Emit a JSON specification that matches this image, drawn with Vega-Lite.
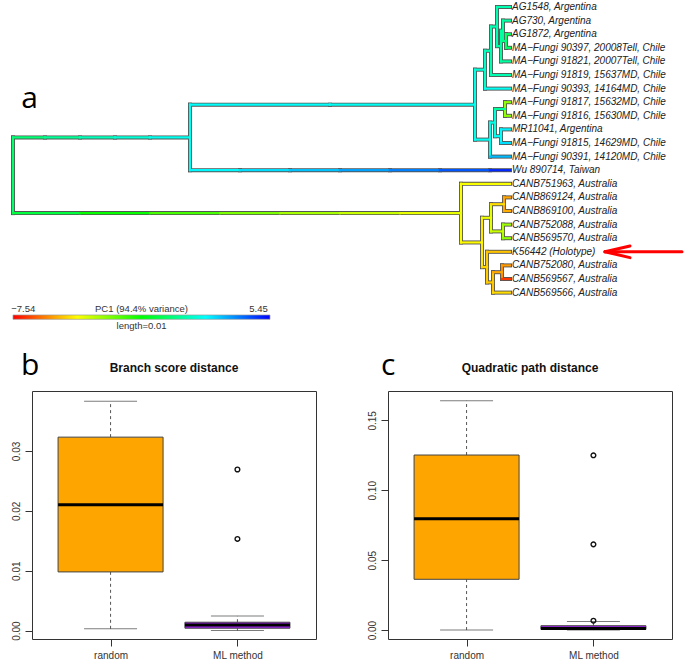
{
  "$schema": "https://vega.github.io/schema/vega-lite/v6.json",
  "padding": {"left": 10, "top": 0, "right": 0, "bottom": 0},
  "spacing": 18,
  "resolve": {"scale": {"x": "independent", "y": "independent", "color": "independent"}},
  "config": {
    "font": "Liberation Sans",
    "view": {"stroke": "#333", "strokeWidth": 1},
    "axis": {"grid": false, "domain": false, "tickColor": "#333", "tickSize": 7, "labelFontSize": 10, "labelColor": "#333", "labelFont": "Liberation Sans"},
    "title": {"font": "Liberation Sans", "fontSize": 12, "fontWeight": "bold", "color": "#111"}
  },
  "datasets": {
    "branches": [
      {"x0":0,"x1":0,"y0":10.59,"y1":16.156,"pc":-0.4},
      {"x0":6.887,"x1":6.887,"y0":8.18,"y1":13,"pc":1.94},
      {"x0":17.977,"x1":17.977,"y0":5.609,"y1":10.75,"pc":1.55},
      {"x0":18.366,"x1":18.366,"y0":4.219,"y1":7,"pc":0.9},
      {"x0":18.599,"x1":18.599,"y0":2.4375,"y1":6,"pc":0.51},
      {"x0":18.833,"x1":18.833,"y0":1,"y1":3.875,"pc":0.51},
      {"x0":18.988,"x1":18.988,"y0":2.75,"y1":5,"pc":0.25},
      {"x0":19.066,"x1":19.066,"y0":2,"y1":3.5,"pc":0.25},
      {"x0":19.183,"x1":19.183,"y0":3,"y1":4,"pc":-0.4},
      {"x0":18.56,"x1":18.56,"y0":9.5,"y1":12,"pc":1.81},
      {"x0":18.755,"x1":18.755,"y0":8.5,"y1":10.5,"pc":1.29},
      {"x0":19.144,"x1":19.144,"y0":8,"y1":9,"pc":-2.08},
      {"x0":18.988,"x1":18.988,"y0":10,"y1":11,"pc":2.2},
      {"x0":17.432,"x1":17.432,"y0":14,"y1":18.3125,"pc":-4.16},
      {"x0":18.249,"x1":18.249,"y0":16.5,"y1":20.125,"pc":-4.68},
      {"x0":18.599,"x1":18.599,"y0":15.5,"y1":17.5,"pc":-3.64},
      {"x0":19.105,"x1":19.105,"y0":15,"y1":16,"pc":-5.85},
      {"x0":19.066,"x1":19.066,"y0":17,"y1":18,"pc":-2.6},
      {"x0":18.444,"x1":18.444,"y0":19,"y1":21.25,"pc":-5.2},
      {"x0":18.677,"x1":18.677,"y0":20.5,"y1":22,"pc":-5.33},
      {"x0":19.027,"x1":19.027,"y0":20,"y1":21,"pc":-6.24},
      {"x0":0,"x1":1.245,"y0":10.59,"y1":10.59,"pc":-0.27},
      {"x0":1.245,"x1":2.607,"y0":10.59,"y1":10.59,"pc":0.12},
      {"x0":2.607,"x1":3.969,"y0":10.59,"y1":10.59,"pc":0.64},
      {"x0":3.969,"x1":5.331,"y0":10.59,"y1":10.59,"pc":1.16},
      {"x0":5.331,"x1":6.887,"y0":10.59,"y1":10.59,"pc":1.68},
      {"x0":0,"x1":2.607,"y0":16.156,"y1":16.156,"pc":-0.79},
      {"x0":2.607,"x1":5.331,"y0":16.156,"y1":16.156,"pc":-1.05},
      {"x0":5.331,"x1":8.054,"y0":16.156,"y1":16.156,"pc":-1.31},
      {"x0":8.054,"x1":10.389,"y0":16.156,"y1":16.156,"pc":-1.82},
      {"x0":10.389,"x1":12.724,"y0":16.156,"y1":16.156,"pc":-2.47},
      {"x0":12.724,"x1":15.058,"y0":16.156,"y1":16.156,"pc":-3.12},
      {"x0":15.058,"x1":17.432,"y0":16.156,"y1":16.156,"pc":-3.77},
      {"x0":6.887,"x1":12.335,"y0":8.18,"y1":8.18,"pc":2.07},
      {"x0":12.335,"x1":17.977,"y0":8.18,"y1":8.18,"pc":1.81},
      {"x0":6.887,"x1":8.833,"y0":13,"y1":13,"pc":2.33},
      {"x0":8.833,"x1":10.778,"y0":13,"y1":13,"pc":2.85},
      {"x0":10.778,"x1":12.724,"y0":13,"y1":13,"pc":3.37},
      {"x0":12.724,"x1":14.669,"y0":13,"y1":13,"pc":3.89},
      {"x0":14.669,"x1":16.615,"y0":13,"y1":13,"pc":4.41},
      {"x0":16.615,"x1":18.56,"y0":13,"y1":13,"pc":4.93},
      {"x0":18.56,"x1":19.339,"y0":13,"y1":13,"pc":5.32},
      {"x0":17.977,"x1":18.366,"y0":5.609,"y1":5.609,"pc":1.2},
      {"x0":17.977,"x1":18.56,"y0":10.75,"y1":10.75,"pc":1.81},
      {"x0":18.366,"x1":18.599,"y0":4.219,"y1":4.219,"pc":0.6},
      {"x0":18.366,"x1":19.339,"y0":7,"y1":7,"pc":1.81},
      {"x0":18.599,"x1":18.833,"y0":2.4375,"y1":2.4375,"pc":0.51},
      {"x0":18.599,"x1":19.339,"y0":6,"y1":6,"pc":0.51},
      {"x0":18.833,"x1":19.339,"y0":1,"y1":1,"pc":0.51},
      {"x0":18.833,"x1":18.988,"y0":3.875,"y1":3.875,"pc":0.35},
      {"x0":18.988,"x1":19.066,"y0":2.75,"y1":2.75,"pc":0.25},
      {"x0":18.988,"x1":19.339,"y0":5,"y1":5,"pc":0.25},
      {"x0":19.066,"x1":19.339,"y0":2,"y1":2,"pc":0.25},
      {"x0":19.066,"x1":19.183,"y0":3.5,"y1":3.5,"pc":-0.1},
      {"x0":19.183,"x1":19.339,"y0":3,"y1":3,"pc":-0.4},
      {"x0":19.183,"x1":19.339,"y0":4,"y1":4,"pc":-0.4},
      {"x0":18.56,"x1":18.755,"y0":9.5,"y1":9.5,"pc":1.5},
      {"x0":18.56,"x1":19.339,"y0":12,"y1":12,"pc":3.5},
      {"x0":18.755,"x1":19.144,"y0":8.5,"y1":8.5,"pc":0.25},
      {"x0":19.144,"x1":19.339,"y0":8,"y1":8,"pc":-2.08},
      {"x0":19.144,"x1":19.339,"y0":9,"y1":9,"pc":-2.08},
      {"x0":18.755,"x1":18.988,"y0":10.5,"y1":10.5,"pc":2.0},
      {"x0":18.988,"x1":19.339,"y0":10,"y1":10,"pc":2.46},
      {"x0":18.988,"x1":19.339,"y0":11,"y1":11,"pc":2.85},
      {"x0":17.432,"x1":19.339,"y0":14,"y1":14,"pc":-4.16},
      {"x0":17.432,"x1":18.249,"y0":18.3125,"y1":18.3125,"pc":-4.4},
      {"x0":18.249,"x1":18.599,"y0":16.5,"y1":16.5,"pc":-3.9},
      {"x0":18.249,"x1":18.444,"y0":20.125,"y1":20.125,"pc":-5.0},
      {"x0":18.599,"x1":19.105,"y0":15.5,"y1":15.5,"pc":-4.9},
      {"x0":19.105,"x1":19.339,"y0":15,"y1":15,"pc":-5.85},
      {"x0":19.105,"x1":19.339,"y0":16,"y1":16,"pc":-5.72},
      {"x0":18.599,"x1":19.066,"y0":17.5,"y1":17.5,"pc":-3.1},
      {"x0":19.066,"x1":19.339,"y0":17,"y1":17,"pc":-2.34},
      {"x0":19.066,"x1":19.339,"y0":18,"y1":18,"pc":-2.08},
      {"x0":18.444,"x1":19.339,"y0":19,"y1":19,"pc":-5.33},
      {"x0":18.444,"x1":18.677,"y0":21.25,"y1":21.25,"pc":-5.25},
      {"x0":18.677,"x1":19.027,"y0":20.5,"y1":20.5,"pc":-5.8},
      {"x0":18.677,"x1":19.339,"y0":22,"y1":22,"pc":-4.94},
      {"x0":19.027,"x1":19.339,"y0":20,"y1":20,"pc":-6.0},
      {"x0":19.027,"x1":19.339,"y0":21,"y1":21,"pc":-7.28}
    ],
    "tips": [
      {"name":"AG1548, Argentina","tip":1,"depth":19.339},
      {"name":"AG730, Argentina","tip":2,"depth":19.339},
      {"name":"AG1872, Argentina","tip":3,"depth":19.339},
      {"name":"MA−Fungi 90397, 20008Tell, Chile","tip":4,"depth":19.339},
      {"name":"MA−Fungi 91821, 20007Tell, Chile","tip":5,"depth":19.339},
      {"name":"MA−Fungi 91819, 15637MD, Chile","tip":6,"depth":19.339},
      {"name":"MA−Fungi 90393, 14164MD, Chile","tip":7,"depth":19.339},
      {"name":"MA−Fungi 91817, 15632MD, Chile","tip":8,"depth":19.339},
      {"name":"MA−Fungi 91816, 15630MD, Chile","tip":9,"depth":19.339},
      {"name":"MR11041, Argentina","tip":10,"depth":19.339},
      {"name":"MA−Fungi 91815, 14629MD, Chile","tip":11,"depth":19.339},
      {"name":"MA−Fungi 90391, 14120MD, Chile","tip":12,"depth":19.339},
      {"name":"Wu 890714, Taiwan","tip":13,"depth":19.339},
      {"name":"CANB751963, Australia","tip":14,"depth":19.339},
      {"name":"CANB869124, Australia","tip":15,"depth":19.339},
      {"name":"CANB869100, Australia","tip":16,"depth":19.339},
      {"name":"CANB752088, Australia","tip":17,"depth":19.339},
      {"name":"CANB569570, Australia","tip":18,"depth":19.339},
      {"name":"K56442 (Holotype)","tip":19,"depth":19.339},
      {"name":"CANB752080, Australia","tip":20,"depth":19.339},
      {"name":"CANB569567, Australia","tip":21,"depth":19.339},
      {"name":"CANB569566, Australia","tip":22,"depth":19.339}
    ],
    "arrow": [
      {"x0":23.035,"x1":26.031,"y0":19.0,"y1":19.0},
      {"x0":23.035,"x1":24.008,"y0":19.0,"y1":18.57},
      {"x0":23.035,"x1":24.008,"y0":19.0,"y1":19.43}
    ],
    "barText": [
      {"t":"−7.54","x":0.4,"y":23.206},
      {"t":"PC1 (94.4% variance)","x":5.0,"y":23.206},
      {"t":"5.45","x":9.553,"y":23.206},
      {"t":"length=0.01","x":5.0,"y":24.456}
    ],
    "bsdBox": [
      {"group":"random","pos":1,"lo":0.0003,"q1":0.0098,"med":0.0210,"q3":0.0323,"hi":0.0383},
      {"group":"ML method","pos":2,"lo":0.0,"q1":0.0004,"med":0.00095,"q3":0.0014,"hi":0.00245}
    ],
    "bsdOut": [
      {"group":"ML method","pos":2,"value":0.0269},
      {"group":"ML method","pos":2,"value":0.0153}
    ],
    "qpdBox": [
      {"group":"random","pos":1,"lo":0.0,"q1":0.0363,"med":0.0796,"q3":0.1252,"hi":0.164},
      {"group":"ML method","pos":2,"lo":0.0,"q1":0.0005,"med":0.0012,"q3":0.0031,"hi":0.0062}
    ],
    "qpdOut": [
      {"group":"ML method","pos":2,"value":0.125},
      {"group":"ML method","pos":2,"value":0.0613},
      {"group":"ML method","pos":2,"value":0.0067}
    ]
  },
  "vconcat": [
    {
      "width": 653,
      "height": 332,
      "view": {"stroke": null},
      "layer": [
        {
          "data": {"name": "branches"},
          "mark": {"type": "rule", "strokeWidth": 4, "color": "#555", "strokeCap": "square"},
          "encoding": {
            "x": {"field": "x0", "type": "quantitative", "scale": {"domain": [0.739, 26.148], "nice": false, "zero": false}, "axis": null},
            "x2": {"field": "x1"},
            "y": {"field": "y0", "type": "quantitative", "scale": {"domain": [0.4853, 24.897], "reverse": true, "nice": false, "zero": false}, "axis": null},
            "y2": {"field": "y1"}
          }
        },
        {
          "data": {"name": "branches"},
          "mark": {"type": "rule", "strokeWidth": 2.2, "strokeCap": "square"},
          "encoding": {
            "x": {"field": "x0", "type": "quantitative", "axis": null},
            "x2": {"field": "x1"},
            "y": {"field": "y0", "type": "quantitative", "axis": null},
            "y2": {"field": "y1"},
            "color": {"field": "pc", "type": "quantitative", "legend": null,
              "scale": {"domain": [-7.54, -4.2925, -1.045, 2.2025, 5.45], "range": ["#ff0000", "#ffff00", "#00ff00", "#00ffff", "#0000ff"]}}
          }
        },
        {
          "data": {"name": "tips"},
          "mark": {"type": "text", "align": "left", "baseline": "middle", "dx": 2, "fontStyle": "italic", "fontSize": 10, "color": "#222"},
          "encoding": {
            "x": {"field": "depth", "type": "quantitative", "axis": null},
            "y": {"field": "tip", "type": "quantitative", "axis": null},
            "text": {"field": "name"}
          }
        },
        {
          "data": {"name": "arrow"},
          "mark": {"type": "rule", "strokeWidth": 3, "color": "#ff0000", "strokeCap": "round"},
          "encoding": {
            "x": {"field": "x0", "type": "quantitative", "axis": null},
            "x2": {"field": "x1"},
            "y": {"field": "y0", "type": "quantitative", "axis": null},
            "y2": {"field": "y1"}
          }
        },
        {
          "data": {"values": [{"x0": 0, "x1": 10, "y0": 23.647, "y1": 23.963}]},
          "mark": {"type": "rect", "stroke": "#999", "strokeWidth": 0.7,
            "fill": {"gradient": "linear", "x1": 0, "y1": 0, "x2": 1, "y2": 0,
              "stops": [{"offset": 0, "color": "#ff0000"}, {"offset": 0.25, "color": "#ffff00"}, {"offset": 0.5, "color": "#00ff00"}, {"offset": 0.75, "color": "#00ffff"}, {"offset": 1, "color": "#0000ff"}]}},
          "encoding": {
            "x": {"field": "x0", "type": "quantitative", "axis": null},
            "x2": {"field": "x1"},
            "y": {"field": "y0", "type": "quantitative", "axis": null},
            "y2": {"field": "y1"}
          }
        },
        {
          "data": {"name": "barText"},
          "mark": {"type": "text", "align": "center", "baseline": "middle", "fontSize": 9.5, "color": "#333"},
          "encoding": {
            "x": {"field": "x", "type": "quantitative", "axis": null},
            "y": {"field": "y", "type": "quantitative", "axis": null},
            "text": {"field": "t"}
          }
        },
        {
          "data": {"values": [{"t": "a", "x": 0.642, "y": 8.426}]},
          "mark": {"type": "text", "align": "center", "baseline": "alphabetic", "fontSize": 30, "font": "Open Sans", "color": "#000"},
          "encoding": {
            "x": {"field": "x", "type": "quantitative", "axis": null},
            "y": {"field": "y", "type": "quantitative", "axis": null},
            "text": {"field": "t"}
          }
        }
      ]
    },
    {
      "hconcat": [
        {
          "width": 284,
          "height": 248,
          "title": {"text": "Branch score distance", "frame": "group", "anchor": "middle", "baseline": "alphabetic", "offset": 19, "dy": 52},
          "layer": [
            {
              "data": {"name": "bsdBox"},
              "mark": {"type": "rule", "strokeDash": [3, 3], "color": "#555"},
              "encoding": {
                "x": {"field": "pos", "type": "quantitative", "title": null,
                  "scale": {"domain": [0.42, 2.58], "nice": false, "zero": false},
                  "axis": {"values": [1, 2], "labelExpr": "datum.value == 1 ? 'random' : 'ML method'", "labelPadding": 4, "labelFlush": false}},
                "y": {"field": "q3", "type": "quantitative", "title": null,
                  "scale": {"domain": [-0.0014, 0.04], "nice": false, "zero": false},
                  "axis": {"values": [0, 0.01, 0.02, 0.03], "format": ".2f", "labelAngle": 270, "labelPadding": 4}},
                "y2": {"field": "hi"}
              }
            },
            {
              "data": {"name": "bsdBox"},
              "mark": {"type": "rule", "strokeDash": [3, 3], "color": "#555"},
              "encoding": {
                "x": {"field": "pos", "type": "quantitative", "title": null},
                "y": {"field": "lo", "type": "quantitative", "title": null},
                "y2": {"field": "q1"}
              }
            },
            {
              "data": {"name": "bsdBox"},
              "mark": {"type": "tick", "orient": "horizontal", "size": 53, "thickness": 1, "color": "#444"},
              "encoding": {
                "x": {"field": "pos", "type": "quantitative", "title": null},
                "y": {"field": "hi", "type": "quantitative", "title": null}
              }
            },
            {
              "data": {"name": "bsdBox"},
              "mark": {"type": "tick", "orient": "horizontal", "size": 53, "thickness": 1, "color": "#444"},
              "encoding": {
                "x": {"field": "pos", "type": "quantitative", "title": null},
                "y": {"field": "lo", "type": "quantitative", "title": null}
              }
            },
            {
              "data": {"name": "bsdBox"},
              "mark": {"type": "bar", "size": 105, "stroke": "#444", "strokeWidth": 1, "opacity": 1},
              "encoding": {
                "x": {"field": "pos", "type": "quantitative", "title": null},
                "y": {"field": "q1", "type": "quantitative", "title": null},
                "y2": {"field": "q3"},
                "color": {"field": "group", "type": "nominal", "legend": null,
                  "scale": {"domain": ["random", "ML method"], "range": ["#FFA500", "#A020F0"]}}
              }
            },
            {
              "data": {"name": "bsdBox"},
              "mark": {"type": "tick", "orient": "horizontal", "size": 105, "thickness": 3, "color": "#000", "opacity": 1},
              "encoding": {
                "x": {"field": "pos", "type": "quantitative", "title": null},
                "y": {"field": "med", "type": "quantitative", "title": null}
              }
            },
            {
              "data": {"name": "bsdOut"},
              "mark": {"type": "point", "shape": "circle", "filled": false, "size": 22, "strokeWidth": 1.4, "color": "#111", "opacity": 1},
              "encoding": {
                "x": {"field": "pos", "type": "quantitative", "title": null},
                "y": {"field": "value", "type": "quantitative", "title": null}
              }
            },
            {
              "data": {"values": [{"t": "b", "x": 0.367, "y": 0.04267}]},
              "mark": {"type": "text", "align": "center", "baseline": "alphabetic", "fontSize": 30, "font": "Open Sans", "color": "#000"},
              "encoding": {
                "x": {"field": "x", "type": "quantitative", "title": null},
                "y": {"field": "y", "type": "quantitative", "title": null},
                "text": {"field": "t"}
              }
            }
          ]
        },
        {
          "width": 284,
          "height": 248,
          "title": {"text": "Quadratic path distance", "frame": "group", "anchor": "middle", "baseline": "alphabetic", "offset": 19, "dy": 52},
          "layer": [
            {
              "data": {"name": "qpdBox"},
              "mark": {"type": "rule", "strokeDash": [3, 3], "color": "#555"},
              "encoding": {
                "x": {"field": "pos", "type": "quantitative", "title": null,
                  "scale": {"domain": [0.42, 2.58], "nice": false, "zero": false},
                  "axis": {"values": [1, 2], "labelExpr": "datum.value == 1 ? 'random' : 'ML method'", "labelPadding": 4, "labelFlush": false}},
                "y": {"field": "q3", "type": "quantitative", "title": null,
                  "scale": {"domain": [-0.0064, 0.171], "nice": false, "zero": false},
                  "axis": {"values": [0, 0.05, 0.1, 0.15], "format": ".2f", "labelAngle": 270, "labelPadding": 4}},
                "y2": {"field": "hi"}
              }
            },
            {
              "data": {"name": "qpdBox"},
              "mark": {"type": "rule", "strokeDash": [3, 3], "color": "#555"},
              "encoding": {
                "x": {"field": "pos", "type": "quantitative", "title": null},
                "y": {"field": "lo", "type": "quantitative", "title": null},
                "y2": {"field": "q1"}
              }
            },
            {
              "data": {"name": "qpdBox"},
              "mark": {"type": "tick", "orient": "horizontal", "size": 53, "thickness": 1, "color": "#444"},
              "encoding": {
                "x": {"field": "pos", "type": "quantitative", "title": null},
                "y": {"field": "hi", "type": "quantitative", "title": null}
              }
            },
            {
              "data": {"name": "qpdBox"},
              "mark": {"type": "tick", "orient": "horizontal", "size": 53, "thickness": 1, "color": "#444"},
              "encoding": {
                "x": {"field": "pos", "type": "quantitative", "title": null},
                "y": {"field": "lo", "type": "quantitative", "title": null}
              }
            },
            {
              "data": {"name": "qpdBox"},
              "mark": {"type": "bar", "size": 105, "stroke": "#444", "strokeWidth": 1, "opacity": 1},
              "encoding": {
                "x": {"field": "pos", "type": "quantitative", "title": null},
                "y": {"field": "q1", "type": "quantitative", "title": null},
                "y2": {"field": "q3"},
                "color": {"field": "group", "type": "nominal", "legend": null,
                  "scale": {"domain": ["random", "ML method"], "range": ["#FFA500", "#A020F0"]}}
              }
            },
            {
              "data": {"name": "qpdBox"},
              "mark": {"type": "tick", "orient": "horizontal", "size": 105, "thickness": 3, "color": "#000", "opacity": 1},
              "encoding": {
                "x": {"field": "pos", "type": "quantitative", "title": null},
                "y": {"field": "med", "type": "quantitative", "title": null}
              }
            },
            {
              "data": {"name": "qpdOut"},
              "mark": {"type": "point", "shape": "circle", "filled": false, "size": 22, "strokeWidth": 1.4, "color": "#111", "opacity": 1},
              "encoding": {
                "x": {"field": "pos", "type": "quantitative", "title": null},
                "y": {"field": "value", "type": "quantitative", "title": null}
              }
            },
            {
              "data": {"values": [{"t": "c", "x": 0.382, "y": 0.1824}]},
              "mark": {"type": "text", "align": "center", "baseline": "alphabetic", "fontSize": 30, "font": "Open Sans", "color": "#000"},
              "encoding": {
                "x": {"field": "x", "type": "quantitative", "title": null},
                "y": {"field": "y", "type": "quantitative", "title": null},
                "text": {"field": "t"}
              }
            }
          ]
        }
      ],
      "spacing": 49,
      "resolve": {"scale": {"x": "independent", "y": "independent", "color": "independent"}}
    }
  ]
}
